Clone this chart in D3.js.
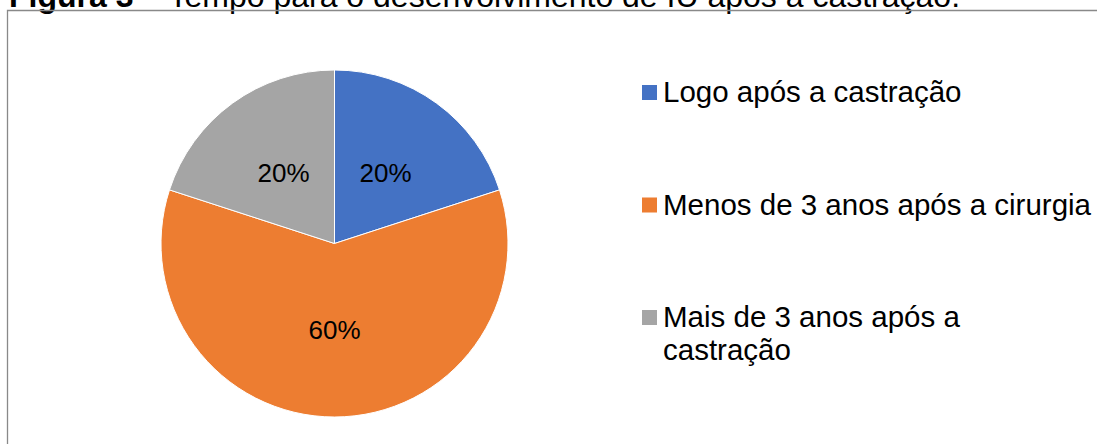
<!DOCTYPE html>
<html lang="pt">
<head>
    <meta charset="UTF-8">
    <title>Figura 3</title>
    <script src="https://d3js.org/d3.v7.min.js"></script>
    <style>
        body {
            margin: 0;
            background: #fff;
            font-family: "Liberation Sans", Arial, sans-serif;
        }
        svg {
            display: block;
        }
        .title {
            font-size: 32px;
            fill: #000;
        }
        .label {
            font-size: 26px;
            fill: #000;
        }
        .legend text {
            font-size: 29.5px;
            fill: #000;
        }
    </style>
</head>
<body>
    <svg id="chart" width="1097" height="444"></svg>

    <script>
        const categories = [
            ["Logo após a castração"],
            ["Menos de 3 anos após a cirurgia"],
            ["Mais de 3 anos após a", "castração"]
        ];
        const values = [20, 60, 20];
        const colors = ["#4472C4", "#ED7D31", "#A5A5A5"];

        const width = 1097, height = 444;
        const cx = 334.5, cy = 243.5, radius = 173.5;

        let svg = d3.select("#chart");

        // title (cut by the top of the picture, as in the source)
        let title = svg.append("text")
            .attr("class", "title")
            .attr("x", 9)
            .attr("y", 7);
        title.append("tspan").attr("font-weight", "bold").text("Figura 3");
        title.append("tspan").text(" – Tempo para o desenvolvimento de IU após a castração.");

        // chart frame, open to the right and bottom
        svg.append("path")
            .attr("d", `M7.5,${height + 2} V10.5 H${width + 2}`)
            .attr("fill", "none")
            .attr("stroke", "#898989")
            .attr("stroke-width", 1.3);

        let pie = d3.pie().sort(null).value(d => d);
        let arcs = pie(values);
        let arc = d3.arc().innerRadius(0).outerRadius(radius);
        let labelArc = d3.arc().innerRadius(radius * 0.5).outerRadius(radius * 0.5);

        let g = svg.append("g").attr("transform", `translate(${cx},${cy})`);

        g.selectAll("path")
            .data(arcs)
            .enter().append("path")
            .attr("d", arc)
            .attr("fill", (d, i) => colors[i])
            .attr("stroke", "#fff")
            .attr("stroke-width", 1);

        g.selectAll(".label")
            .data(arcs)
            .enter().append("text")
            .attr("class", "label")
            .attr("text-anchor", "middle")
            .attr("dy", "0.35em")
            .attr("transform", d => `translate(${labelArc.centroid(d)})`)
            .text(d => d3.format(".0%")(d.data / d3.sum(values)));

        // legend
        let legendY = d3.scalePoint()
            .domain(d3.range(categories.length))
            .range([102, 327]);

        let items = svg.append("g")
            .attr("class", "legend")
            .selectAll("g")
            .data(categories)
            .enter().append("g")
            .attr("transform", (d, i) => `translate(642,${legendY(i)})`);

        items.append("rect")
            .attr("x", 0)
            .attr("y", -17)
            .attr("width", 15)
            .attr("height", 15)
            .attr("fill", (d, i) => colors[i]);

        items.append("text")
            .selectAll("tspan")
            .data(d => d)
            .enter().append("tspan")
            .attr("x", 21)
            .attr("y", (d, i) => i * 33)
            .text(d => d);
    </script>
</body>
</html>
